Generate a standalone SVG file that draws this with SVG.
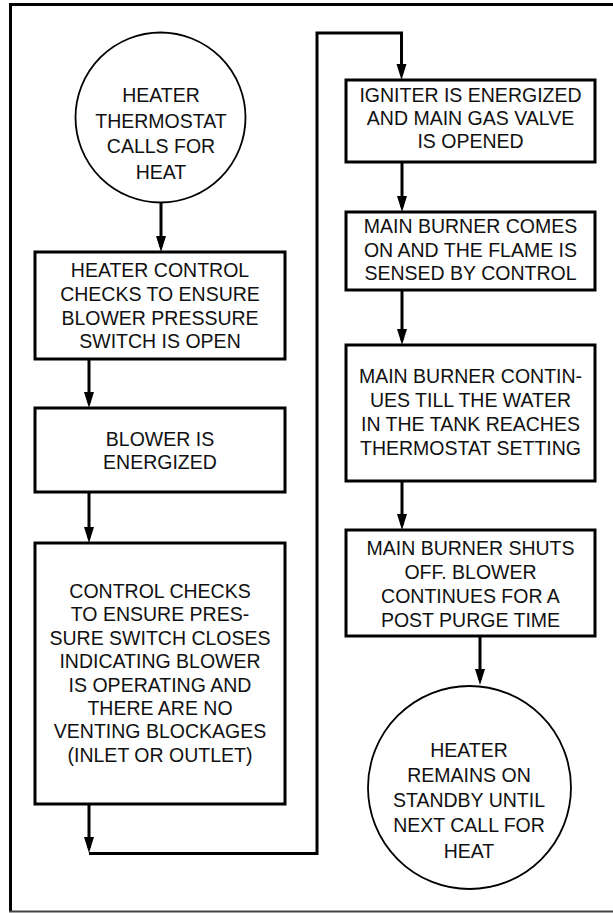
<svg xmlns="http://www.w3.org/2000/svg" width="613" height="913" viewBox="0 0 613 913">
<style>
.box{fill:#fff;stroke:#000;stroke-width:3}
.circ{fill:#fff;stroke:#000;stroke-width:1.8}
.t{font-family:"Liberation Sans",Arial,sans-serif;font-size:19.5px;fill:#111;text-anchor:middle}
.c{fill:none;stroke:#000;stroke-width:3}
</style>
<defs>
<marker id="ah" markerUnits="userSpaceOnUse" markerWidth="17" markerHeight="11" viewBox="0 0 17 11" refX="11" refY="5.5" orient="auto">
<path d="M0,0.5 L16,5.5 L0,10.5 z" fill="#000"/>
</marker>
</defs>
<rect width="613" height="913" fill="#fff"/>
<g id="frame">
<line x1="9" y1="4.5" x2="613" y2="4.5" stroke="#000" stroke-width="3"/>
<line x1="10.5" y1="3" x2="10.5" y2="912" stroke="#000" stroke-width="3"/>
<line x1="9" y1="911.5" x2="613" y2="911.5" stroke="#444" stroke-width="2"/>
</g>
<g id="connectors">
<path class="c" d="M161,203 V247" marker-end="url(#ah)"/>
<path class="c" d="M89,359 V403" marker-end="url(#ah)"/>
<path class="c" d="M89,492 V538" marker-end="url(#ah)"/>
<path class="c" d="M89,804 V848" marker-end="url(#ah)"/>
<path class="c" d="M89,853.5 H317 V33 H401.5 V75" marker-end="url(#ah)"/>
<path class="c" d="M402,162 V207" marker-end="url(#ah)"/>
<path class="c" d="M402,290 V340" marker-end="url(#ah)"/>
<path class="c" d="M402,481 V525" marker-end="url(#ah)"/>
<path class="c" d="M480,636 V680" marker-end="url(#ah)"/>
</g>
<g id="start">
<circle class="circ" cx="160.5" cy="117.5" r="85"/>
<text class="t" x="161" y="102">HEATER</text>
<text class="t" x="161" y="128">THERMOSTAT</text>
<text class="t" x="161" y="153">CALLS FOR</text>
<text class="t" x="161" y="179">HEAT</text>
</g>
<g id="check-open">
<rect class="box" x="35" y="252" width="250" height="107"/>
<text class="t" x="160" y="277">HEATER CONTROL</text>
<text class="t" x="160" y="301">CHECKS TO ENSURE</text>
<text class="t" x="160" y="325">BLOWER PRESSURE</text>
<text class="t" x="160" y="348">SWITCH IS OPEN</text>
</g>
<g id="blower">
<rect class="box" x="35" y="408" width="250" height="84"/>
<text class="t" x="160" y="446">BLOWER IS</text>
<text class="t" x="160" y="469">ENERGIZED</text>
</g>
<g id="check-closes">
<rect class="box" x="35" y="543" width="250" height="261"/>
<text class="t" x="160" y="598">CONTROL CHECKS</text>
<text class="t" x="160" y="621.4">TO ENSURE PRES-</text>
<text class="t" x="160" y="644.8">SURE SWITCH CLOSES</text>
<text class="t" x="160" y="668.2">INDICATING BLOWER</text>
<text class="t" x="160" y="691.6">IS OPERATING AND</text>
<text class="t" x="160" y="715">THERE ARE NO</text>
<text class="t" x="160" y="738.4">VENTING BLOCKAGES</text>
<text class="t" x="160" y="761.8">(INLET OR OUTLET)</text>
</g>
<g id="igniter">
<rect class="box" x="346" y="80" width="249" height="82"/>
<text class="t" x="470.5" y="102">IGNITER IS ENERGIZED</text>
<text class="t" x="470.5" y="125">AND MAIN GAS VALVE</text>
<text class="t" x="470.5" y="148">IS OPENED</text>
</g>
<g id="burner-on">
<rect class="box" x="346" y="212" width="249" height="78"/>
<text class="t" x="470.5" y="233">MAIN BURNER COMES</text>
<text class="t" x="470.5" y="257">ON AND THE FLAME IS</text>
<text class="t" x="470.5" y="280">SENSED BY CONTROL</text>
</g>
<g id="burner-continues">
<rect class="box" x="346" y="345" width="249" height="136"/>
<text class="t" x="470.5" y="383">MAIN BURNER CONTIN-</text>
<text class="t" x="470.5" y="407">UES TILL THE WATER</text>
<text class="t" x="470.5" y="431">IN THE TANK REACHES</text>
<text class="t" x="470.5" y="455">THERMOSTAT SETTING</text>
</g>
<g id="burner-off">
<rect class="box" x="346" y="530" width="249" height="106"/>
<text class="t" x="470.5" y="555">MAIN BURNER SHUTS</text>
<text class="t" x="470.5" y="579">OFF. BLOWER</text>
<text class="t" x="470.5" y="603">CONTINUES FOR A</text>
<text class="t" x="470.5" y="627">POST PURGE TIME</text>
</g>
<g id="standby">
<circle class="circ" cx="469.5" cy="787.5" r="101.5"/>
<text class="t" x="469" y="757">HEATER</text>
<text class="t" x="469" y="782">REMAINS ON</text>
<text class="t" x="469" y="807">STANDBY UNTIL</text>
<text class="t" x="469" y="832">NEXT CALL FOR</text>
<text class="t" x="469" y="858">HEAT</text>
</g>
</svg>
